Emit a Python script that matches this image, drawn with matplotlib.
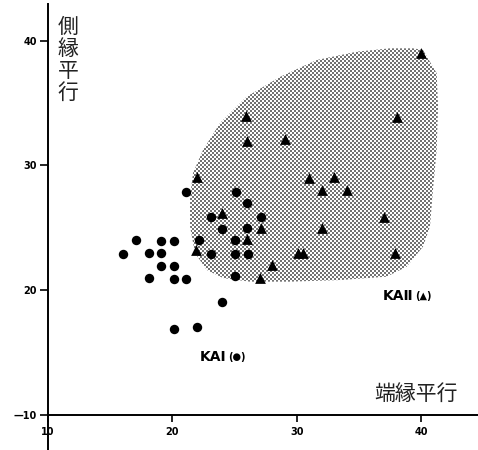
import matplotlib
matplotlib.use("Agg")
import matplotlib.pyplot as plt
import numpy as np

# ---- data ----
circle_x = [17.1, 19.1, 20.1, 16.0, 18.1, 19.1, 19.1, 20.1, 18.1, 20.1, 21.1,
            21.1, 22.1, 23.1, 24.0, 23.1, 24.0, 20.1, 22.0, 25.1, 26.0, 27.1,
            26.0, 25.0, 25.0, 26.1, 25.0]
circle_y = [24.0, 23.9, 23.9, 22.9, 23.0, 23.0, 21.9, 21.95, 21.0, 20.9, 20.9,
            27.9, 24.0, 25.9, 24.9, 22.9, 19.0, 16.9, 17.05, 27.9, 27.0, 25.9,
            25.0, 24.0, 22.9, 22.9, 21.1]

tri_x = [22.0, 24.0, 21.9, 27.1, 26.0, 28.0, 27.0, 25.9, 26.0, 29.0, 31.0,
         33.0, 32.0, 34.0, 32.0, 30.1, 30.5, 37.0, 37.9, 38.0, 40.0]
tri_y = [29.1, 26.2, 23.2, 25.0, 24.1, 22.0, 21.0, 34.0, 32.0, 32.1, 29.0,
         29.05, 28.0, 28.0, 25.0, 23.0, 23.0, 25.9, 23.0, 33.9, 39.0]

region_x = [40.12, 41.22, 41.33, 41.22, 40.92, 40.68, 40.12, 38.81, 37.2, 33.49,
            29.44, 26.22, 24.06, 22.75, 21.81, 21.41, 21.41, 21.65, 22.45, 23.82,
            25.96, 28.67, 31.58, 34.80, 37.47, 39.32]
region_y = [39.28, 37.41, 34.72, 31.24, 28.02, 25.08, 23.48, 21.87, 21.07, 20.80,
            20.67, 20.67, 20.96, 21.61, 22.97, 25.08, 27.49, 29.40, 31.24, 33.41,
            35.53, 37.13, 38.47, 39.14, 39.41, 39.41]

x_ticks = [10, 20, 30, 40]
x_tick_labels = ["10", "20", "30", "40"]
y_ticks = [10, 20, 30, 40]
y_tick_labels = ["—10", "20", "30", "40"]

y_title = "側縁平行"
x_title = "端縁平行"
label_c_main = "KAI"
label_c_sym = "(●)"
label_t_main = "KAⅡ"
label_t_sym = "(▲)"

W, H = 478, 450
fig = plt.figure(figsize=(W / 100, H / 100), dpi=100)
ax = fig.add_axes([48 / W, 0, 1 - 48 / W, 446 / H])
ax.set_xlim(10, 44.54)
ax.set_ylim(7.15, 42.97)
ax.patch.set_alpha(0)

# region outline used as a clip for the stipple texture
region = ax.fill(region_x, region_y, facecolor="none", edgecolor="none",
                 linewidth=0, zorder=1)[0]

# stipple texture (screen-tone dots), clipped to the region
rr, cc = np.mgrid[0:H, 0:W]
dots = (((rr // 2) + (cc // 2)) % 2 == 0)
tone = np.where(dots, 0.45, 1.0)
rgb = np.dstack([tone, tone, tone])
img = fig.figimage(rgb, xo=0, yo=0, origin="upper", zorder=-1)
img.set_clip_path(region)

ax.scatter(circle_x, circle_y, s=46, marker="o", color="black", zorder=3,
           linewidths=0)
ax.scatter(tri_x, tri_y, s=60, marker="^", color="black", zorder=3,
           linewidths=0)

for side in ("top", "right"):
    ax.spines[side].set_visible(False)
ax.spines["bottom"].set_position(("data", 10))
ax.spines["left"].set_linewidth(1.4)
ax.spines["bottom"].set_linewidth(1.4)

tick_font = dict(family=["Liberation Sans Narrow", "DejaVu Sans"],
                 weight="bold", size=7)
ax.set_xticks(x_ticks)
ax.set_xticklabels(x_tick_labels, fontdict=tick_font)
ax.set_yticks(y_ticks)
ax.set_yticklabels(y_tick_labels, fontdict=tick_font)
ax.tick_params(axis="x", direction="out", length=5, width=1.2, pad=4)
ax.tick_params(axis="y", direction="out", length=6, width=1.2, pad=2)

cjk = ["Noto Sans CJK JP", "DejaVu Sans"]
for i, ch in enumerate(y_title):
    fig.text(68 / W, 1 - (27 + 22 * i) / H, ch, family=cjk, size=15,
             ha="center", va="center", color="#222222")
fig.text(416 / W, 1 - 394 / H, x_title, family=cjk, size=15,
         ha="center", va="center", color="#222222")

c1 = fig.text(200 / W, 1 - 357 / H, label_c_main,
              family=["DejaVu Sans"], weight="bold",
              size=10, ha="left", va="center")
ax.annotate(label_c_sym, xy=(1, 0.5), xycoords=c1, xytext=(1, 0),
            textcoords="offset points", ha="left", va="center",
            family=["DejaVu Sans"], weight="bold", size=7)
t1 = fig.text(383 / W, 1 - 296 / H, label_t_main,
              family=["DejaVu Sans", "Noto Sans CJK JP"], weight="bold",
              size=10, ha="left", va="center")
ax.annotate(label_t_sym, xy=(1, 0.5), xycoords=t1, xytext=(1, 0),
            textcoords="offset points", ha="left", va="center",
            family=["DejaVu Sans"], weight="bold", size=7)

fig.savefig("out.png", dpi=100)
